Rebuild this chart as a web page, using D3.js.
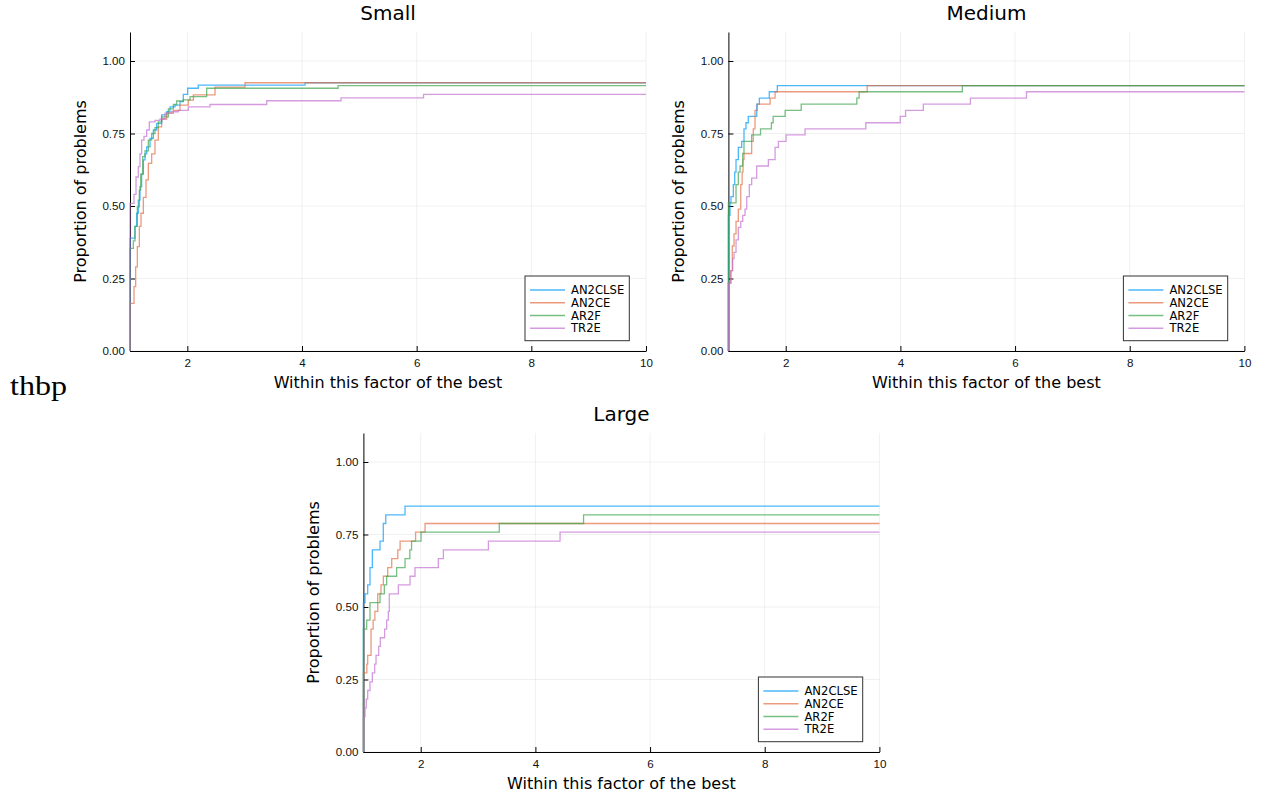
<!DOCTYPE html>
<html>
<head>
<meta charset="utf-8">
<script src="https://cdn.jsdelivr.net/npm/d3@7"></script>
<style>
  body { margin: 0; background: #fff; }
  svg { display: block; font-family: "DejaVu Sans", sans-serif; }
  .grid line { stroke: #000; stroke-opacity: 0.06; }
  .axis path, .axis line { stroke: #000; }
  .axis text { font-size: 11.6px; fill: #111; }
</style>
</head>
<body>
<div id="chart-area"></div>
<script>
// solvers and ticks
var solvers = ["AN2CLSE", "AN2CE", "AR2F", "TR2E"];
var xTicks = [2, 4, 6, 8, 10];
var yTicks = [0, 0.25, 0.5, 0.75, 1.0];

// Small problems: [factor, proportion] breakpoints of each step curve
var smallAN2CLSE = [[1,0],[1,0.389],[1.087,0.43],[1.116,0.475],[1.145,0.52],[1.174,0.567],[1.203,0.61],[1.233,0.659],
    [1.262,0.68],[1.291,0.704],[1.349,0.733],[1.407,0.762],[1.465,0.785],[1.552,0.814],[1.64,0.825],[1.698,0.842],
    [1.785,0.848],[1.872,0.86],[1.93,0.885],[2.006,0.906],[2.19,0.917],[4.053,0.925]];
var smallAN2CE = [[1,0],[1,0.164],[1.07,0.222],[1.099,0.29],[1.128,0.36],[1.163,0.43],[1.192,0.475],[1.233,0.53],
    [1.279,0.59],[1.32,0.647],[1.378,0.68],[1.436,0.727],[1.494,0.773],[1.552,0.80],[1.64,0.82],[1.756,0.83],
    [1.872,0.848],[2.017,0.865],[2.105,0.883],[2.483,0.91],[3.006,0.925]];
var smallAR2F = [[1,0],[1,0.354],[1.058,0.38],[1.087,0.43],[1.128,0.497],[1.163,0.555],[1.186,0.61],[1.221,0.67],
    [1.262,0.69],[1.32,0.727],[1.378,0.75],[1.436,0.77],[1.494,0.79],[1.552,0.807],[1.669,0.835],[1.756,0.85],
    [1.814,0.862],[1.93,0.866],[2.047,0.877],[2.337,0.906],[4.63,0.915]];
var smallTR2E = [[1,0],[1,0.509],[1.07,0.54],[1.105,0.60],[1.145,0.636],[1.174,0.68],[1.203,0.727],[1.244,0.74],
    [1.291,0.762],[1.337,0.79],[1.436,0.795],[1.523,0.80],[1.61,0.82],[1.727,0.825],[1.843,0.83],[2.017,0.842],
    [2.395,0.85],[3.385,0.863],[4.68,0.873],[6.12,0.885]];

// Medium problems
var mediumAN2CLSE = [[1,0],[1,0.468],[1.028,0.511],[1.045,0.532],[1.086,0.574],[1.11,0.617],[1.133,0.66],[1.173,0.702],
    [1.232,0.723],[1.272,0.766],[1.307,0.787],[1.347,0.809],[1.494,0.851],[1.54,0.872],[1.713,0.894],[1.853,0.915]];
var mediumAN2CE = [[1,0],[1,0.234],[1.04,0.277],[1.068,0.362],[1.098,0.404],[1.133,0.447],[1.173,0.489],[1.215,0.574],
    [1.24,0.617],[1.255,0.66],[1.272,0.681],[1.406,0.723],[1.434,0.766],[1.464,0.83],[1.504,0.851],[1.727,0.872],
    [1.814,0.894],[3.42,0.915]];
var mediumAR2F = [[1,0],[1,0.511],[1.133,0.574],[1.173,0.617],[1.203,0.638],[1.25,0.681],[1.272,0.723],[1.406,0.745],
    [1.56,0.766],[1.75,0.787],[1.78,0.809],[1.99,0.83],[2.27,0.851],[3.24,0.872],[3.28,0.894],[5.08,0.915]];
var mediumTR2E = [[1,0],[1,0.234],[1.045,0.277],[1.075,0.319],[1.098,0.34],[1.133,0.383],[1.173,0.426],[1.215,0.447],
    [1.25,0.468],[1.29,0.489],[1.32,0.532],[1.365,0.574],[1.406,0.596],[1.494,0.638],[1.697,0.66],[1.814,0.702],
    [1.872,0.723],[2.005,0.745],[2.337,0.766],[3.397,0.787],[3.997,0.809],[4.09,0.83],[4.4,0.851],[5.22,0.872],[6.2,0.894]];

// Large problems
var largeAN2CLSE = [[1,0],[1,0.515],[1.028,0.545],[1.075,0.576],[1.115,0.636],[1.156,0.697],[1.29,0.727],[1.347,0.788],
    [1.39,0.818],[1.726,0.848]];
var largeAN2CE = [[1,0],[1,0.273],[1.06,0.303],[1.075,0.333],[1.133,0.424],[1.17,0.455],[1.2,0.485],[1.25,0.545],
    [1.307,0.576],[1.348,0.606],[1.424,0.636],[1.494,0.667],[1.6,0.697],[1.64,0.727],[1.91,0.758],[2.075,0.788]];
var largeAR2F = [[1,0],[1,0.424],[1.057,0.455],[1.115,0.515],[1.29,0.545],[1.365,0.576],[1.406,0.606],[1.58,0.636],
    [1.726,0.667],[1.81,0.697],[1.84,0.727],[2.005,0.758],[3.37,0.788],[4.84,0.818]];
var largeTR2E = [[1,0],[1,0.121],[1.028,0.152],[1.05,0.182],[1.075,0.212],[1.115,0.242],[1.156,0.273],[1.197,0.303],
    [1.22,0.333],[1.267,0.364],[1.295,0.394],[1.37,0.424],[1.406,0.455],[1.435,0.485],[1.452,0.545],[1.61,0.576],
    [1.813,0.606],[1.9,0.636],[2.307,0.667],[2.395,0.697],[3.18,0.727],[4.43,0.758]];

var colors = ["#009af9", "#e26f46", "#3da44d", "#c271d2"];

var panels = [
    { title: "Small",  series: [smallAN2CLSE, smallAN2CE, smallAR2F, smallTR2E],     left: 130,   top: 32 },
    { title: "Medium", series: [mediumAN2CLSE, mediumAN2CE, mediumAR2F, mediumTR2E], left: 728.4, top: 32 },
    { title: "Large",  series: [largeAN2CLSE, largeAN2CE, largeAR2F, largeTR2E],     left: 363.4, top: 433 }
];
var width = 516, height = 319;

var svg = d3.select("#chart-area").append("svg")
    .attr("width", 1265)
    .attr("height", 795);

panels.forEach(function(p) {
    var g = svg.append("g")
        .attr("transform", "translate(" + p.left + "," + p.top + ")");

    var x = d3.scaleLinear().domain([1, 10]).range([0, width]);
    var y = d3.scaleLinear().domain([0, 1.1]).range([height, 0]);

    // Grid
    var grid = g.append("g").attr("class", "grid");
    grid.selectAll(".gx").data(xTicks).enter().append("line")
        .attr("x1", function(d){ return x(d); }).attr("x2", function(d){ return x(d); })
        .attr("y1", 0).attr("y2", height);
    grid.selectAll(".gy").data(yTicks).enter().append("line")
        .attr("x1", 0).attr("x2", width)
        .attr("y1", function(d){ return y(d); }).attr("y2", function(d){ return y(d); });

    // Axes (ticks point inward)
    g.append("g")
        .attr("class", "x axis")
        .attr("transform", "translate(0," + height + ")")
        .call(d3.axisBottom(x).tickValues(xTicks).tickSize(-5).tickSizeOuter(0).tickPadding(8)
            .tickFormat(d3.format("d")));
    g.append("g")
        .attr("class", "y axis")
        .call(d3.axisLeft(y).tickValues(yTicks).tickSize(-5).tickSizeOuter(0).tickPadding(5)
            .tickFormat(d3.format(".2f")));

    // Step lines
    var line = d3.line()
        .x(function(d){ return x(d[0]); })
        .y(function(d){ return y(d[1]); })
        .curve(d3.curveStepAfter);

    p.series.forEach(function(s, i) {
        var pts = s.concat([[10, s[s.length - 1][1]]]);
        g.append("path")
            .attr("fill", "none")
            .attr("stroke", colors[i])
            .attr("stroke-opacity", 0.7)
            .attr("stroke-width", 1.3)
            .attr("d", line(pts));
    });

    // Title and labels
    g.append("text")
        .attr("x", width / 2)
        .attr("y", -12)
        .attr("font-size", "20px")
        .attr("text-anchor", "middle")
        .text(p.title);
    g.append("text")
        .attr("x", width / 2)
        .attr("y", height + 36.7)
        .attr("font-size", "16px")
        .attr("text-anchor", "middle")
        .text("Within this factor of the best");
    g.append("text")
        .attr("transform", "translate(-44," + (height / 2) + ") rotate(-90)")
        .attr("font-size", "16px")
        .attr("text-anchor", "middle")
        .text("Proportion of problems");

    // Legend
    var lg = g.append("g")
        .attr("transform", "translate(" + (width - 16.7 - 104.3) + "," + (height - 10.3 - 64.7) + ")");
    lg.append("rect")
        .attr("width", 104.3)
        .attr("height", 64.7)
        .attr("fill", "#fff")
        .attr("stroke", "#333")
        .attr("stroke-width", 1);
    solvers.forEach(function(name, i) {
        var ly = 14 + i * 12.75;
        lg.append("line")
            .attr("x1", 5).attr("x2", 40)
            .attr("y1", ly).attr("y2", ly)
            .attr("stroke", colors[i])
            .attr("stroke-opacity", 0.7)
            .attr("stroke-width", 1.3);
        lg.append("text")
            .attr("x", 46)
            .attr("y", ly)
            .attr("dy", "0.36em")
            .attr("font-size", "11.6px")
            .text(name);
    });
});

// Stray LaTeX float placement text
svg.append("text")
    .attr("x", 10)
    .attr("y", 395)
    .attr("font-family", "'Liberation Serif', serif")
    .attr("font-size", "27px")
    .attr("textLength", 57)
    .attr("lengthAdjust", "spacingAndGlyphs")
    .text("thbp");
</script>
</body>
</html>
